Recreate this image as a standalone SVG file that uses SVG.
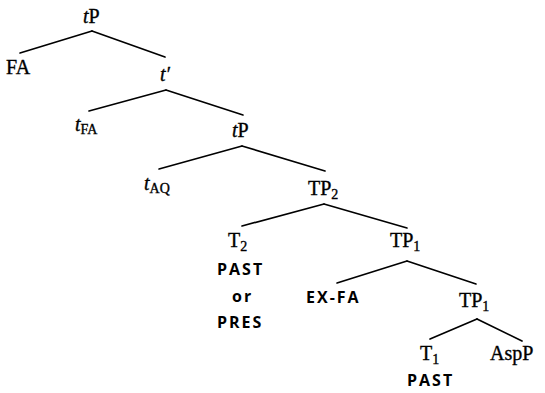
<svg xmlns="http://www.w3.org/2000/svg" width="545" height="393" viewBox="0 0 545 393">
<style>
.l{font-family:"Liberation Serif","Times New Roman",serif;font-size:20px;fill:#000;stroke:#000;stroke-width:0.35}
.i{font-style:italic}
.s{font-size:14px}
.f{font-family:"Open Sans","Liberation Sans",Arial,sans-serif;font-weight:700;font-size:16px;letter-spacing:2px;fill:#000}
.e{stroke:#000;stroke-width:1.7;fill:none;stroke-linecap:round}
</style>
<rect width="545" height="393" fill="#fff"/>
<g id="connectors">
<line class="e" x1="92" y1="31" x2="20" y2="53"/>
<line class="e" x1="92" y1="31" x2="165" y2="57"/>
<line class="e" x1="166" y1="90" x2="89" y2="111"/>
<line class="e" x1="166" y1="90" x2="243" y2="115"/>
<line class="e" x1="242" y1="146" x2="159" y2="169"/>
<line class="e" x1="242" y1="146" x2="325" y2="171"/>
<line class="e" x1="324" y1="204" x2="242" y2="226"/>
<line class="e" x1="324" y1="204" x2="407" y2="228"/>
<line class="e" x1="407" y1="261" x2="337" y2="283"/>
<line class="e" x1="407" y1="261" x2="476" y2="284"/>
<line class="e" x1="477" y1="319" x2="430" y2="339"/>
<line class="e" x1="477" y1="319" x2="522" y2="341"/>
</g>
<g id="tP-root"><text class="l" x="83" y="23"><tspan class="i">t</tspan>P</text></g>
<g id="FA"><text class="l" x="6" y="74">FA</text></g>
<g id="t-bar"><text class="l" x="160" y="81"><tspan class="i">t′</tspan></text></g>
<g id="t-FA"><text class="l" x="75" y="131"><tspan class="i">t</tspan><tspan class="s" dy="3">FA</tspan></text></g>
<g id="tP-2"><text class="l" x="232" y="137"><tspan class="i">t</tspan>P</text></g>
<g id="t-AQ"><text class="l" x="144" y="190"><tspan class="i">t</tspan><tspan class="s" dy="3">AQ</tspan></text></g>
<g id="TP2"><text class="l" x="308" y="195">TP<tspan class="s" dy="4">2</tspan></text></g>
<g id="T2"><text class="l" x="228" y="247">T<tspan class="s" dy="4">2</tspan></text>
<text class="f" x="217" y="275">PAST</text>
<text class="f" x="232" y="302">or</text>
<text class="f" x="217" y="328">PRES</text></g>
<g id="TP1-a"><text class="l" x="390" y="247">TP<tspan class="s" dy="4">1</tspan></text></g>
<g id="EX-FA"><text class="f" x="306" y="303">EX-FA</text></g>
<g id="TP1-b"><text class="l" x="459" y="307">TP<tspan class="s" dy="4">1</tspan></text></g>
<g id="T1"><text class="l" x="420" y="360">T<tspan class="s" dy="4">1</tspan></text>
<text class="f" x="407" y="386">PAST</text></g>
<g id="AspP"><text class="l" x="490" y="360">AspP</text></g>
</svg>
